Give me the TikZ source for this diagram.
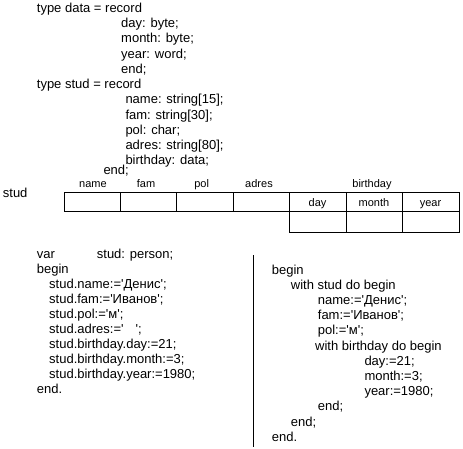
\documentclass[tikz,border=0pt]{standalone}
\usepackage{fontspec}
\newfontfamily\codefont{Liberation Sans}
\begin{document}
\begin{tikzpicture}[x=1pt,y=-1pt,
  code/.style={anchor=base west,inner sep=0pt,font=\codefont\fontsize{13}{15}\selectfont},
  lbl/.style={anchor=base,inner sep=0pt,font=\codefont\fontsize{11}{13}\selectfont},
  cell/.style={line width=1pt}]
\useasboundingbox[fill=white] (0,0) rectangle (463,449);
% top declarations
\node[code] (a0) at (36.7,12.5) {type data = record};
\node[code] (a1) at (121,27.75) {day: byte;};
\node[code] (a2) at (121,43) {month: byte;};
\node[code] (a3) at (121,58.25) {year: word;};
\node[code] (a4) at (121,73.5) {end;};
\node[code] (a5) at (36.7,88.75) {type stud = record};
\node[code] (a6) at (125.3,104) {name: string[15];};
\node[code] (a7) at (125.3,119.25) {fam: string[30];};
\node[code] (a8) at (125.3,134.5) {pol: char;};
\node[code] (a9) at (125.3,149.75) {adres: string[80];};
\node[code] (a10) at (125.3,165) {birthday: data;};
\node[code] (a11) at (103.3,175) {end;};
% table
\node[code] (stud) at (2.7,197) {stud};
\node[lbl] (lname) at (93,188) {name};
\node[lbl] (lfam) at (146,188) {fam};
\node[lbl] (lpol) at (201.7,188) {pol};
\node[lbl] (ladres) at (259,188) {adres};
\node[lbl] (lbirth) at (372,188) {birthday};
\draw[cell] (64,193) rectangle (459,212);
\foreach \xx in {120,176,233,289,346,402} \draw[cell] (\xx,193) -- (\xx,212);
\draw[cell] (289,212) rectangle (459,232);
\draw[cell] (346,212) -- (346,232);
\draw[cell] (402,212) -- (402,232);
\node[lbl] (lday) at (317.5,206.5) {day};
\node[lbl] (lmonth) at (374,206.5) {month};
\node[lbl] (lyear) at (430.5,206.5) {year};
% left program
\node[code] (b0) at (36.7,258) {var};
\node[code] (b0b) at (96.7,258) {stud: person;};
\node[code] (b1) at (36.7,273.1) {begin};
\node[code] (b2) at (49,288.2) {stud.name:='Денис';};
\node[code] (b3) at (49,303.3) {stud.fam:='Иванов';};
\node[code] (b4) at (49,318.4) {stud.pol:='м';};
\node[code] (b5) at (49,333.5) {stud.adres:='\hspace{12pt}';};
\node[code] (b6) at (49,348.6) {stud.birthday.day:=21;};
\node[code] (b7) at (49,363.7) {stud.birthday.month:=3;};
\node[code] (b8) at (49,378.8) {stud.birthday.year:=1980;};
\node[code] (b9) at (36.7,393.9) {end.};
% separator
\coordinate (s1) at (253,255);
\coordinate (s2) at (253,447);
\draw[line width=1pt] (s1) -- (s2);
% right program
\node[code] (c0) at (271.7,274) {begin};
\node[code] (c1) at (290.7,289.2) {with stud do begin};
\node[code] (c2) at (317.7,304.4) {name:='Денис';};
\node[code] (c3) at (317.7,319.6) {fam:='Иванов';};
\node[code] (c4) at (317.7,334.8) {pol:='м';};
\node[code] (c5) at (315,350) {with birthday do begin};
\node[code] (c6) at (364.3,365.2) {day:=21;};
\node[code] (c7) at (364.3,380.4) {month:=3;};
\node[code] (c8) at (364.3,395.6) {year:=1980;};
\node[code] (c9) at (317.7,410.8) {end;};
\node[code] (c10) at (290.7,426) {end;};
\node[code] (c11) at (271.7,441.2) {end.};
\end{tikzpicture}
\end{document}
